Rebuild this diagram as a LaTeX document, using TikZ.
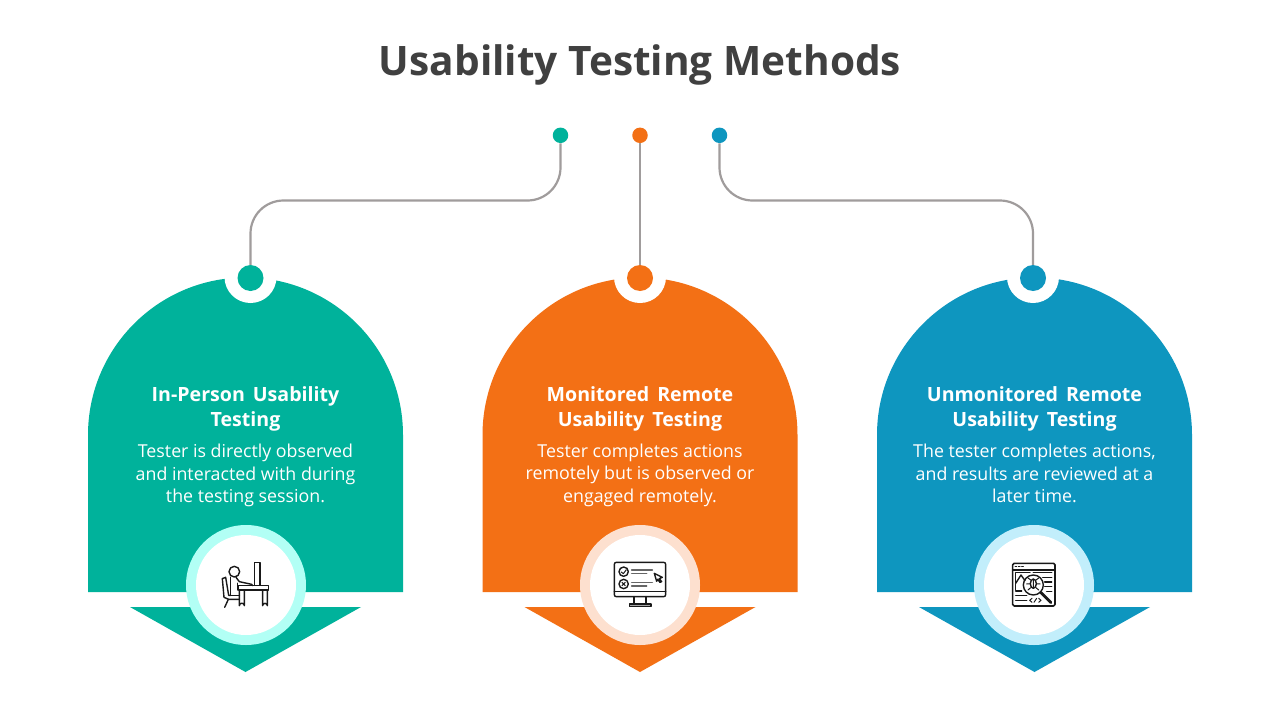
\documentclass[tikz,border=0pt]{standalone}
\usepackage{fontspec}
\setmainfont{Open Sans}
\definecolor{teal1}{RGB}{0,178,155}
\definecolor{orange1}{RGB}{243,112,21}
\definecolor{blue1}{RGB}{14,150,191}
\definecolor{ringT}{RGB}{178,255,245}
\definecolor{ringO}{RGB}{253,224,207}
\definecolor{ringB}{RGB}{194,238,251}
\definecolor{titlec}{RGB}{64,64,64}
\definecolor{linec}{RGB}{160,156,156}
\definecolor{iconc}{RGB}{25,25,25}
\newcommand{\widewords}{\spaceskip=8pt\relax}
\tikzset{
  dotnode/.style={circle,fill=#1,draw=none,minimum size=15.5pt,inner sep=0pt},
  bignode/.style={circle,fill=#1,draw=none,minimum size=26pt,inner sep=0pt},
  conn/.style={draw=linec,line width=2.2pt,rounded corners=33pt},
  head/.style={text=white,align=center,font=\fontsize{19.6}{25}\selectfont\bfseries,execute at begin node=\widewords,anchor=center,inner sep=0pt},
  bodytxt/.style={text=white,align=center,font=\fontsize{17.8}{22.6}\selectfont,anchor=center,inner sep=0pt},
  ic/.style={draw=iconc,line width=1.4pt,line join=round,line cap=round,fill=none},
  icthin/.style={draw=iconc,line width=1pt,line join=round,line cap=round,fill=none},
}
\newcommand{\panel}[5]{% center x, colour, ring, notch x, ring x
  \fill[#2] (#1-157.5,592) -- (#1-157.5,435) arc[start angle=180,end angle=360,radius=157.5] -- (#1+157.5,592) -- cycle;
  \fill[#2] (#1-115.5,607) -- (#1+115.5,607) -- (#1,672) -- cycle;
  \fill[white] (#4,277) circle[radius=26];
  \fill[#3] (#5,585) circle[radius=60];
  \fill[white] (#5,585) circle[radius=50];
}
\begin{document}
\begin{tikzpicture}[x=1pt,y=-1pt]
\useasboundingbox (0,0) rectangle (1280,720);
\fill[white] (0,0) rectangle (1280,720);
\node[text=titlec,font=\fontsize{40.6}{48}\selectfont\bfseries,inner sep=0pt] (title) at (640,64.5) {Usability Testing Methods};

\panel{245.5}{teal1}{ringT}{250.5}{246}
\panel{640}{orange1}{ringO}{640}{640}
\panel{1034.5}{blue1}{ringB}{1033}{1034}

\node[dotnode=teal1] (d1) at (560.5,135.3) {};
\node[dotnode=orange1] (d2) at (640,135.3) {};
\node[dotnode=blue1] (d3) at (719.5,135.3) {};
\node[bignode=teal1] (c1) at (250.5,278) {};
\node[bignode=orange1] (c2) at (640,278) {};
\node[bignode=blue1] (c3) at (1033,278) {};
\coordinate (m1a) at (560.5,200.5);
\coordinate (m1b) at (250.5,200.5);
\coordinate (m3a) at (719.5,200.5);
\coordinate (m3b) at (1033,200.5);
\draw[conn] (d1.south) -- (m1a) -- (m1b) -- (c1.north);
\draw[conn] (d2.south) -- (c2.north);
\draw[conn] (d3.south) -- (m3a) -- (m3b) -- (c3.north);

\node[head] (h1) at (245.5,408.5) {In-Person Usability\\Testing};
\node[head] (h2) at (640,408.5) {Monitored Remote\\Usability Testing};
\node[head] (h3) at (1034.5,408.5) {Unmonitored Remote\\Usability Testing};
\node[bodytxt] (b1) at (245.5,475.5) {Tester is directly observed\\and interacted with during\\the testing session.};
\node[bodytxt] (b2) at (640,475) {Tester completes actions\\remotely but is observed or\\engaged remotely.};
\node[bodytxt] (b3) at (1034.5,473.7) {The tester completes actions,\\and results are reviewed at a\\later time.};

% icon 1
\begin{scope}[shift={(180,520)},x=.3333pt,y=-.3333pt]
 \draw[ic] (163,155) circle[radius=16];
 \draw[ic] (224,127) rectangle (240,197);
 \draw[ic] (175,197) rectangle (266,210);
 \draw[ic] (248,210) -- (248,257) arc[start angle=180,end angle=360,radius=7] -- (262,210);
 \draw[ic] (178,210) -- (178,257) arc[start angle=180,end angle=360,radius=7.5] -- (193,210);
 \draw[ic] (152,172) -- (152,226) -- (178,226);
 \draw[ic] (168,172) -- (178,185) -- (215,193) -- (218,197);
 \draw[ic] (172,190) -- (172,210);
 \draw[ic] (127,176) -- (137,172) -- (146,226) -- (152,226);
 \draw[ic] (127,176) -- (132,232) -- (146,238) -- (178,238);
 \draw[ic] (145,238) -- (134,262);
\end{scope}
% icon 2
\begin{scope}[shift={(575,520)},x=.3333pt,y=-.3333pt]
 \draw[ic,rounded corners=2pt] (118,127) rectangle (272,230);
 \draw[ic] (118,215) -- (272,215);
 \draw[ic] (177,230) -- (177,252) (213,230) -- (213,252);
 \draw[ic,fill=gray!70] (163,252) rectangle (228,260);
 \draw[ic] (146,155) circle[radius=14];
 \draw[ic] (146,192) circle[radius=14];
 \draw[icthin] (139,156) -- (145,161) -- (154,149);
 \draw[icthin] (141,187) -- (151,197) (151,187) -- (141,197);
 \draw[ic,draw=gray!80!black] (170,150) -- (232,150) (170,160) -- (215,160) (170,188) -- (232,188) (170,198) -- (215,198);
 \draw[ic] (238,160) -- (262,172) -- (253,176) -- (260,185) -- (255,187) -- (248,178) -- (245,184) -- cycle;
\end{scope}
% icon 3
\begin{scope}[shift={(970,520)},x=.3333pt,y=-.3333pt]
 \draw[ic,rounded corners=1.5pt,line width=1.6pt] (128,130) rectangle (255,258);
 \draw[ic] (128,150) -- (255,150);
 \draw[icthin] (135,140) -- (140,140) (145,140) -- (150,140) (155,140) -- (160,140);
 \draw[ic] (137,158) -- (180,158) (137,158) -- (137,210);
 \draw[ic] (137,190) -- (153,165) -- (165,182);
 \draw[ic] (190,195) circle[radius=30];
 \draw[ic,line width=2.8pt] (212,217) -- (243,248);
 \draw[ic] (190,191) ellipse[x radius=9,y radius=14];
 \draw[icthin] (182,180) -- (174,174) (198,180) -- (206,174) (180,192) -- (170,192) (200,192) -- (210,192) (182,203) -- (174,210) (198,203) -- (206,210) (190,178) -- (190,205);
 \draw[ic] (190,158) -- (245,158) (218,172) -- (245,172) (224,186) -- (245,186) (224,200) -- (245,200) (230,214) -- (245,214);
 \draw[ic] (137,213) -- (155,213) (137,227) -- (170,227) (137,241) -- (170,241);
 \draw[icthin] (186,235) .. controls (180,236) and (184,241) .. (179,241) .. controls (184,241) and (180,246) .. (186,247);
 \draw[icthin] (192,247) -- (200,235);
 \draw[icthin] (206,235) .. controls (212,236) and (208,241) .. (213,241) .. controls (208,241) and (212,246) .. (206,247);
\end{scope}
\end{tikzpicture}
\end{document}
